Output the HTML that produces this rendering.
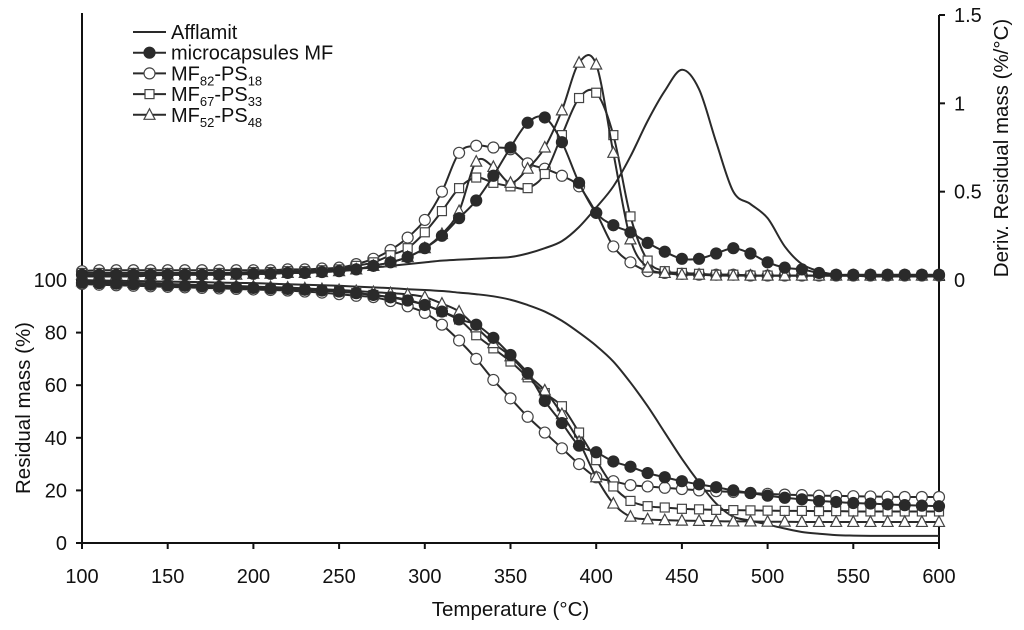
<!DOCTYPE html>
<html><head><meta charset="utf-8"><style>
html,body{margin:0;padding:0;background:#fff;}
svg{display:block;font-family:"Liberation Sans",Arial,sans-serif;}
</style></head><body>
<svg id="chart" width="1024" height="630" viewBox="0 0 1024 630" xmlns="http://www.w3.org/2000/svg">
<g id="axes"></g>
<g id="series"></g>
<g id="legend"></g>
</svg>
<script>
const temps = [];
for (let t = 100; t <= 600; t += 10) temps.push(t);
const xTicks = [100,150,200,250,300,350,400,450,500,550,600];
const massTicks = [0,20,40,60,80,100];
const derivTicks = [0,0.5,1,1.5];
const derivTickLabels = ["0","0.5","1","1.5"];

// Residual mass (%)
const massAfflamit = [100,99.8,99.7,99.6,99.5,99.4,99.3,99.2,99,98.9,98.8,98.6,98.4,98.2,98,97.8,97.5,97.2,96.9,96.5,96.2,95.8,95.2,94.6,93.8,92.5,90.5,88,84.5,80,75,69,61,52,42,32,23,15,10,8.5,7,5.5,4.2,3.5,3,2.8,2.7,2.7,2.7,2.7,2.7];
const massMF = [99,98.8,98.6,98.4,98.2,98,97.8,97.6,97.4,97.2,97,96.8,96.6,96.3,96,95.6,95,94.3,93.4,92.2,90.5,88,85,83,78,71.5,64.6,54,45.6,37,34.5,31,29,26.6,25,23.5,22.3,21.2,20,19,18,17.2,16.6,16,15.6,15.2,15,14.7,14.4,14.2,14];
const massMF82 = [98.5,98.2,98,97.8,97.6,97.4,97.2,97,96.8,96.6,96.4,96.2,96,95.6,95.2,94.6,94,93.5,92,90,87.5,83,77,70,62,55,48,42,36,30,25,23.5,22,21.5,21,20.5,20,19.7,19.4,19,18.7,18.4,18.2,18,17.9,17.8,17.7,17.6,17.5,17.5,17.5];
const massMF67 = [99,98.8,98.6,98.4,98.2,98,97.8,97.6,97.4,97.2,97,96.8,96.6,96.3,96,95.6,95,94.3,93.5,92.5,90.5,88,85,79,74,69,63,57,52,42,31.5,21.5,16,14,13.5,13,12.8,12.6,12.5,12.4,12.3,12.2,12.2,12.1,12.1,12,12,12,12,12,12];
const massMF52 = [99.5,99.3,99.1,98.9,98.7,98.5,98.3,98.1,97.9,97.7,97.5,97.3,97.1,96.8,96.5,96.2,95.8,95.4,95,94.5,93.5,91,88,82,76,71,64,58,49,38.5,25,15,10,9,8.7,8.5,8.4,8.3,8.2,8.2,8.1,8.1,8,8,8,8,8,8,8,8,8];

// Derivative of residual mass (%/°C)
const derivAfflamit = [0.02,0.02,0.02,0.02,0.025,0.03,0.03,0.035,0.035,0.04,0.04,0.045,0.05,0.05,0.055,0.06,0.065,0.07,0.08,0.09,0.1,0.11,0.115,0.12,0.125,0.13,0.15,0.18,0.22,0.3,0.41,0.53,0.7,0.9,1.07,1.19,1.08,0.78,0.5,0.43,0.35,0.19,0.09,0.05,0.03,0.025,0.02,0.02,0.02,0.02,0.02];
const derivMF = [0.03,0.03,0.03,0.03,0.03,0.03,0.03,0.03,0.03,0.035,0.035,0.035,0.04,0.04,0.045,0.05,0.06,0.08,0.1,0.13,0.18,0.25,0.35,0.45,0.59,0.75,0.89,0.92,0.78,0.55,0.38,0.31,0.27,0.21,0.16,0.12,0.12,0.15,0.18,0.15,0.1,0.07,0.06,0.04,0.03,0.03,0.03,0.03,0.03,0.03,0.03];
const derivMF82 = [0.05,0.055,0.055,0.055,0.055,0.055,0.055,0.055,0.055,0.055,0.055,0.055,0.06,0.06,0.065,0.07,0.09,0.12,0.17,0.24,0.34,0.5,0.72,0.76,0.75,0.74,0.66,0.63,0.59,0.53,0.38,0.19,0.1,0.05,0.04,0.035,0.03,0.03,0.03,0.025,0.025,0.025,0.025,0.025,0.025,0.025,0.025,0.025,0.025,0.025,0.025];
const derivMF67 = [0.04,0.04,0.04,0.04,0.04,0.04,0.04,0.04,0.04,0.04,0.045,0.045,0.05,0.05,0.055,0.06,0.08,0.1,0.14,0.18,0.27,0.39,0.52,0.58,0.55,0.53,0.52,0.6,0.82,1.03,1.06,0.82,0.36,0.11,0.05,0.04,0.035,0.03,0.03,0.025,0.025,0.025,0.025,0.025,0.025,0.025,0.025,0.025,0.025,0.025,0.025];
const derivMF52 = [0.03,0.03,0.03,0.03,0.03,0.03,0.03,0.03,0.03,0.03,0.035,0.035,0.04,0.04,0.045,0.05,0.06,0.08,0.1,0.13,0.18,0.26,0.39,0.67,0.64,0.55,0.63,0.75,0.96,1.23,1.22,0.72,0.23,0.07,0.04,0.03,0.03,0.025,0.025,0.025,0.025,0.025,0.025,0.025,0.025,0.025,0.025,0.025,0.025,0.025,0.025];

const NS = "http://www.w3.org/2000/svg";
const X0 = 82, X1 = 939, YB = 543, YT = 280, YR0 = 280, YR1 = 15;
const xScale = t => X0 + (t - 100) / 500 * (X1 - X0);
const yMass = v => YB - v / 100 * (YB - YT);
const yDeriv = d => YR0 - d / 1.5 * (YR0 - YR1);
const C = "#2a2a2a";

function mk(tag, attrs, parent) {
  const e = document.createElementNS(NS, tag);
  for (const k in attrs) e.setAttribute(k, attrs[k]);
  parent.appendChild(e);
  return e;
}
function smoothPath(pts) {
  let d = "M" + pts[0][0].toFixed(2) + "," + pts[0][1].toFixed(2);
  for (let i = 0; i < pts.length - 1; i++) {
    const p0 = pts[Math.max(0, i - 1)], p1 = pts[i], p2 = pts[i + 1], p3 = pts[Math.min(pts.length - 1, i + 2)];
    const c1x = p1[0] + (p2[0] - p0[0]) / 6, c1y = p1[1] + (p2[1] - p0[1]) / 6;
    const c2x = p2[0] - (p3[0] - p1[0]) / 6, c2y = p2[1] - (p3[1] - p1[1]) / 6;
    d += " C" + c1x.toFixed(2) + "," + c1y.toFixed(2) + " " + c2x.toFixed(2) + "," + c2y.toFixed(2) + " " + p2[0].toFixed(2) + "," + p2[1].toFixed(2);
  }
  return d;
}
function marker(kind, x, y, parent) {
  let e;
  if (kind === "filled") e = mk("circle", {cx:x, cy:y, r:5.5, fill:C, stroke:C, "stroke-width":1.2}, parent);
  else if (kind === "circle") e = mk("circle", {cx:x, cy:y, r:5.5, fill:"#fff", stroke:"#444", "stroke-width":1.2}, parent);
  else if (kind === "square") e = mk("rect", {x:x-4.5, y:y-4.5, width:9, height:9, fill:"#fff", stroke:"#444", "stroke-width":1.2}, parent);
  else e = mk("polygon", {points:(x)+","+(y-6)+" "+(x-5.5)+","+(y+4.5)+" "+(x+5.5)+","+(y+4.5), fill:"#fff", stroke:"#444", "stroke-width":1.2}, parent);
  return e;
}

const axes = document.getElementById("axes");
const series = document.getElementById("series");
const legend = document.getElementById("legend");

let a = mk("line", {x1:X0, y1:13, x2:X0, y2:YB+1, stroke:"#111", "stroke-width":2}, axes);


a = mk("line", {x1:X0-1, y1:YB, x2:X1+1, y2:YB, stroke:"#111", "stroke-width":2}, axes);


a = mk("line", {x1:X1, y1:YR1, x2:X1, y2:YB, stroke:"#111", "stroke-width":2}, axes);



xTicks.forEach(t => {
  const x = xScale(t);
  const tk = mk("line", {x1:x, y1:YB, x2:x, y2:YB+6, stroke:"#111", "stroke-width":2}, axes);
  
  
  const tx = mk("text", {x:x, y:YB+40, "text-anchor":"middle", "font-size":20, fill:"#111"}, axes);
  tx.textContent = t;
  
  
});
massTicks.forEach(v => {
  const y = yMass(v);
  const tk = mk("line", {x1:X0-6, y1:y, x2:X0, y2:y, stroke:"#111", "stroke-width":2}, axes);
  
  
  const tx = mk("text", {x:X0-15, y:y+7, "text-anchor":"end", "font-size":20, fill:"#111"}, axes);
  tx.textContent = v;
  
  
});
derivTicks.forEach((v, i) => {
  const y = yDeriv(v);
  const tk = mk("line", {x1:X1, y1:y, x2:X1+6, y2:y, stroke:"#111", "stroke-width":2}, axes);
  
  
  const tx = mk("text", {x:X1+15, y:y+7, "text-anchor":"start", "font-size":20, fill:"#111"}, axes);
  tx.textContent = derivTickLabels[i];
  
  
});
let tt = mk("text", {x:(X0+X1)/2, y:616, "text-anchor":"middle", "font-size":20.5, fill:"#111"}, axes);
tt.textContent = "Temperature (°C)";


tt = mk("text", {x:0, y:0, "text-anchor":"middle", "font-size":20.5, fill:"#111", transform:"translate(30,408) rotate(-90)"}, axes);
tt.textContent = "Residual mass (%)";


tt = mk("text", {x:0, y:0, "text-anchor":"middle", "font-size":20.5, fill:"#111", transform:"translate(1008,148) rotate(-90)"}, axes);
tt.textContent = "Deriv. Residual mass (%/°C)";



const defs = [
  {name:"afflamit", kind:null, mass:massAfflamit, deriv:derivAfflamit},
  {name:"mf82-ps18", kind:"circle", mass:massMF82, deriv:derivMF82},
  {name:"mf67-ps33", kind:"square", mass:massMF67, deriv:derivMF67},
  {name:"mf52-ps48", kind:"triangle", mass:massMF52, deriv:derivMF52},
  {name:"microcapsules-mf", kind:"filled", mass:massMF, deriv:derivMF}
];
defs.forEach(s => {
  [["mass", s.mass, yMass], ["deriv", s.deriv, yDeriv]].forEach(([lab, vals, ys]) => {
    const g = mk("g", {}, series);
    
    
    const pts = temps.map((t, i) => [xScale(t), ys(vals[i])]);
    const p = mk("path", {d:smoothPath(pts), fill:"none", stroke:C, "stroke-width":2}, g);
    
    
    if (s.kind) pts.forEach(pt => {
      const m = marker(s.kind, pt[0], pt[1], g);
      
      
    });
  });
});

const legItems = [
  {kind:null, main:"Afflamit"},
  {kind:"filled", main:"microcapsules MF"},
  {kind:"circle", a:"82", b:"18"},
  {kind:"square", a:"67", b:"33"},
  {kind:"triangle", a:"52", b:"48"}
];
legItems.forEach((it, i) => {
  const y = 32 + i * 20.7;
  const g = mk("g", {}, legend);
  
  
  mk("line", {x1:133, y1:y, x2:166, y2:y, stroke:C, "stroke-width":2}, g);
  if (it.kind) marker(it.kind, 149.5, y, g);
  const tx = mk("text", {x:171, y:y+7, "font-size":20, fill:"#111"}, g);
  if (it.main) tx.textContent = it.main;
  else {
    tx.appendChild(document.createTextNode("MF"));
    let s1 = mk("tspan", {"font-size":13, dy:5}, tx); s1.textContent = it.a;
    let s2 = mk("tspan", {dy:-5}, tx); s2.textContent = "-PS";
    let s3 = mk("tspan", {"font-size":13, dy:5}, tx); s3.textContent = it.b;
  }
});
</script>
</body></html>
